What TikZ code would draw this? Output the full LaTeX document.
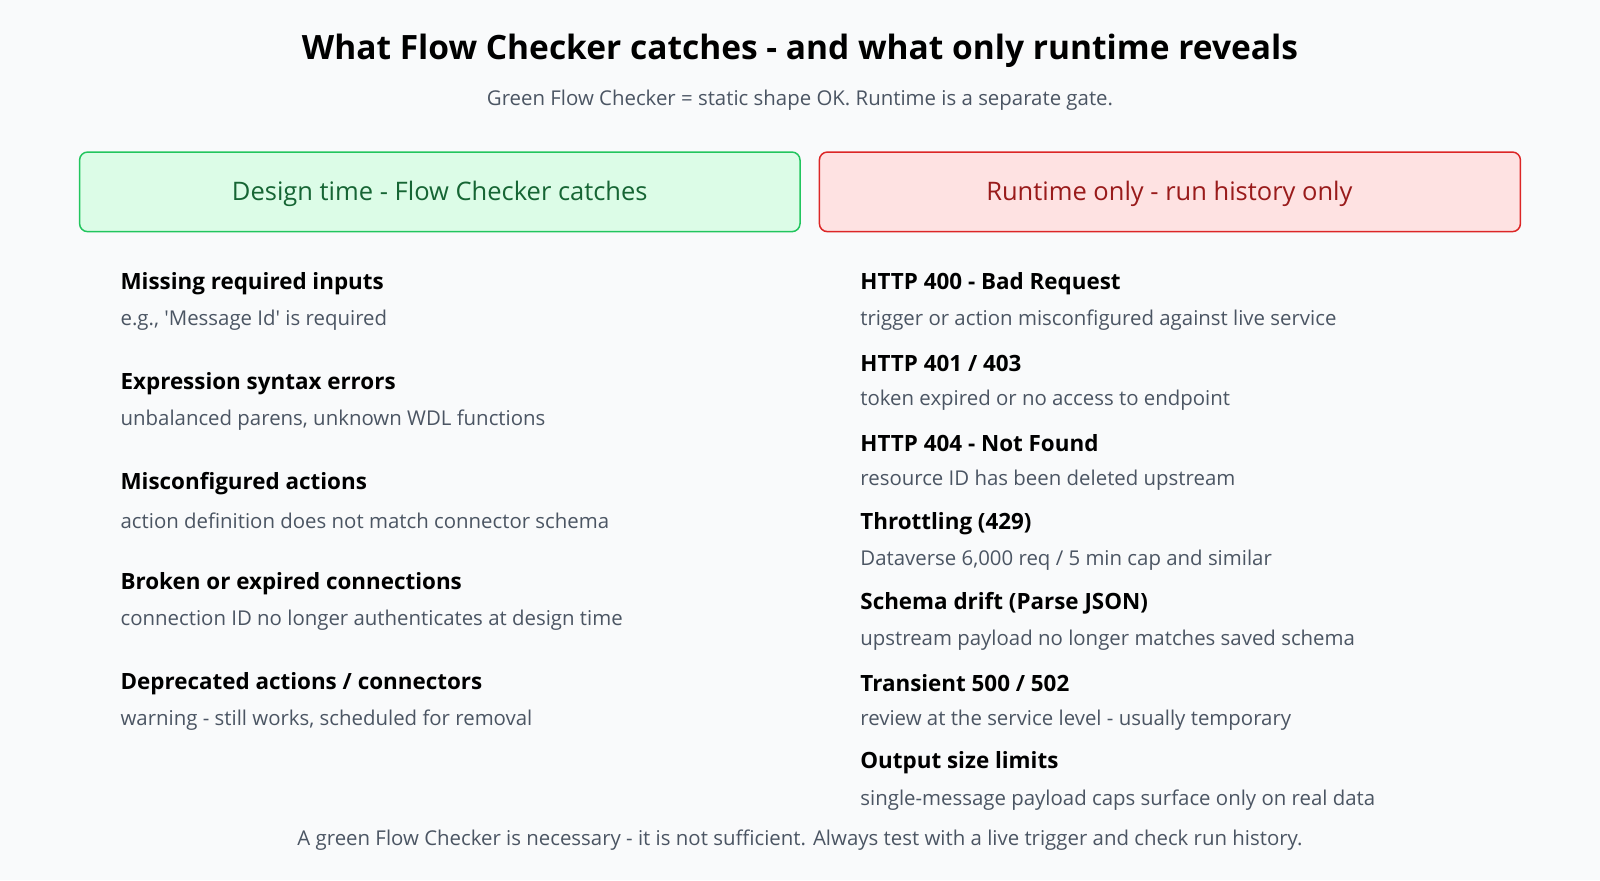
\documentclass[tikz,border=0pt]{standalone}
\usepackage{fontspec}
\setmainfont{Open Sans}
\definecolor{bgc}{HTML}{F9FAFB}
\definecolor{greyt}{HTML}{4B5563}
\definecolor{grnfill}{HTML}{DCFCE7}
\definecolor{grnline}{HTML}{22C55E}
\definecolor{grntext}{HTML}{166534}
\definecolor{redfill}{HTML}{FEE2E2}
\definecolor{redline}{HTML}{DC2626}
\definecolor{redtext}{HTML}{991B1B}
\tikzset{
  head/.style={rounded corners=8pt, line width=1.5pt},
  headtext/.style={font=\fontsize{25.5}{29}\selectfont},
  item/.style={anchor=west, inner sep=0pt, font=\fontsize{22.4}{26}\selectfont\bfseries, text=black},
  desc/.style={anchor=west, inner sep=0pt, font=\fontsize{20.4}{24}\selectfont, text=greyt}
}
\begin{document}
\begin{tikzpicture}[x=1.0204pt,y=-1.0204pt]
    \fill[bgc] (0,0) rectangle (1568,862.4);
    \useasboundingbox (0,0) rectangle (1568,862.4);
    % Titel
    \node[font=\fontsize{33.5}{38}\selectfont\bfseries] (title) at (784,50) {What Flow Checker catches - and what only runtime reveals};
    \node[font=\fontsize{20.4}{24}\selectfont, text=greyt] (subtitle) at (784,98) {Green Flow Checker = static shape OK. Runtime is a separate gate.};

    % Kopfboxen
    \draw[head, fill=grnfill, draw=grnline] (78,149) rectangle (784,227);
    \node[headtext, text=grntext] (lhead) at (431,190) {Design time - Flow Checker catches};
    \draw[head, fill=redfill, draw=redline] (803,149) rectangle (1490,227);
    \node[headtext, text=redtext] (rhead) at (1146,190) {Runtime only - run history only};

    % Links
    \foreach \i/\t/\d in {
        0/{Missing required inputs}/{e.g., \textquotesingle Message Id\textquotesingle\ is required},
        1/{Expression syntax errors}/{unbalanced parens, unknown WDL functions},
        2/{Misconfigured actions}/{action definition does not match connector schema},
        3/{Broken or expired connections}/{connection ID no longer authenticates at design time},
        4/{Deprecated actions / connectors}/{warning - still works, scheduled for removal}
        } {
        \node[item] (l\i) at (118,278+98*\i) {\t};
        \node[desc] (ld\i) at (118,314+98*\i) {\d};
    }

    % Rechts
    \foreach \i/\t/\d in {
        0/{HTTP 400 - Bad Request}/{trigger or action misconfigured against live service},
        1/{HTTP 401 / 403}/{token expired or no access to endpoint},
        2/{HTTP 404 - Not Found}/{resource ID has been deleted upstream},
        3/{Throttling (429)}/{Dataverse 6,000 req / 5 min cap and similar},
        4/{Schema drift (Parse JSON)}/{upstream payload no longer matches saved schema},
        5/{Transient 500 / 502}/{review at the service level - usually temporary},
        6/{Output size limits}/{single-message payload caps surface only on real data}
        } {
        \node[item] (r\i) at (843,278+78.3*\i) {\t};
        \node[desc] (rd\i) at (843,314+78.3*\i) {\d};
    }

    \node[font=\fontsize{20.4}{24}\selectfont, text=greyt] (foot) at (784,823) {A green Flow Checker is necessary - it is not sufficient. Always test with a live trigger and check run history.};
\end{tikzpicture}
\end{document}
